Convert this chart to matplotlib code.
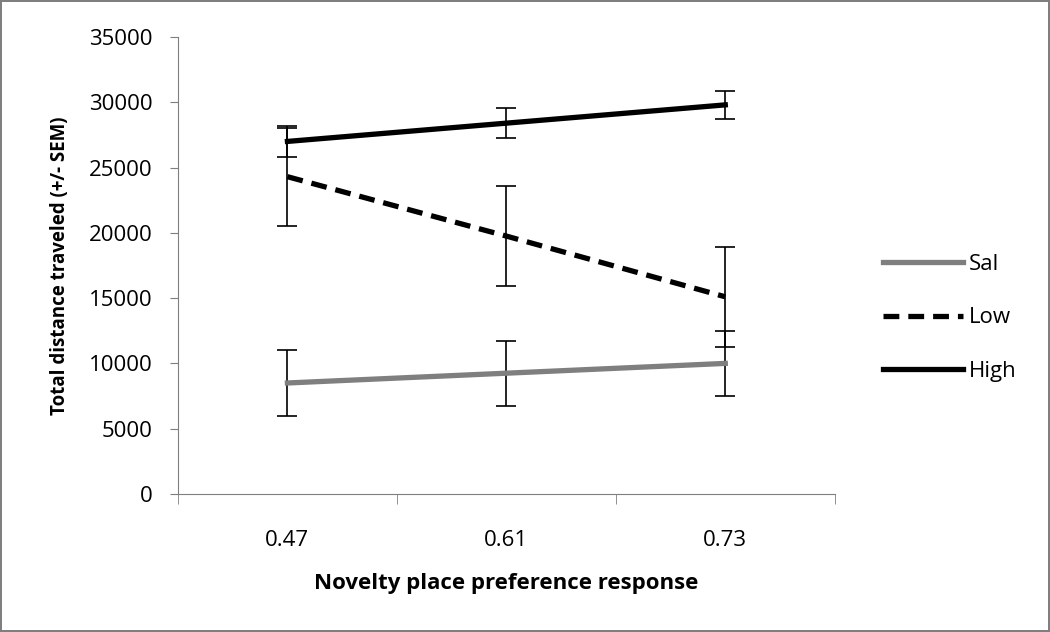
import matplotlib

matplotlib.use("Agg")
import matplotlib.pyplot as plt
import numpy as np

categories = ["0.47", "0.61", "0.73"]
series_names = ["Sal", "Low", "High"]
sal_mean = [8500, 9250, 10000]
sal_sem = [2500, 2500, 2500]
low_mean = [24300, 19750, 15100]
low_sem = [3750, 3850, 3850]
high_mean = [27000, 28400, 29800]
high_sem = [1200, 1150, 1100]
y_ticks = [0, 5000, 10000, 15000, 20000, 25000, 30000, 35000]

plt.rcParams["font.family"] = ["Open Sans", "DejaVu Sans"]

fig = plt.figure(figsize=(10.5, 6.32), dpi=100)
fig.patch.set_edgecolor("#7f7f7f")
fig.patch.set_linewidth(1.5)
ax = fig.add_axes([0.1695, 0.2184, 0.6255, 0.7231])

x = np.arange(len(categories))
styles = {
    "Sal": dict(color="#7f7f7f", linestyle="-"),
    "Low": dict(color="black", linestyle=(0, (3.0, 1.7))),
    "High": dict(color="black", linestyle="-"),
}
data = {"Sal": (sal_mean, sal_sem), "Low": (low_mean, low_sem), "High": (high_mean, high_sem)}

handles = []
for name in series_names:
    mean, sem = data[name]
    ax.errorbar(x, mean, yerr=sem, fmt="none", ecolor="black", elinewidth=1.2, capsize=7, capthick=1.2, zorder=2)
    (line,) = ax.plot(x, mean, linewidth=3.8, label=name, zorder=3, **styles[name])
    handles.append(line)

ax.set_xlim(-0.5, 2.5)
ax.set_ylim(0, 35000)
ax.set_yticks(y_ticks)
ax.set_xticks(x)
ax.set_xticklabels(categories)
ax.set_xticks([-0.5, 0.5, 1.5, 2.5], minor=True)
ax.tick_params(axis="x", which="major", length=0, pad=26, labelsize=16)
ax.tick_params(axis="x", which="minor", length=7, color="#7f7f7f", direction="out")
ax.tick_params(axis="y", length=6, color="#7f7f7f", labelsize=16, pad=12)

for side in ["top", "right"]:
    ax.spines[side].set_visible(False)
for side in ["left", "bottom"]:
    ax.spines[side].set_color("#7f7f7f")

ax.set_xlabel("Novelty place preference response", fontsize=16, fontweight="bold", labelpad=16)
ax.set_ylabel("Total distance traveled (+/- SEM)", fontsize=13.5, fontweight="bold", labelpad=14)

fig.legend(handles=handles, loc="center left", bbox_to_anchor=(0.822, 0.497), frameon=False,
           fontsize=16, handlelength=3.6, labelspacing=1.45, handletextpad=0.25)

fig.savefig("out.png", dpi=100)
